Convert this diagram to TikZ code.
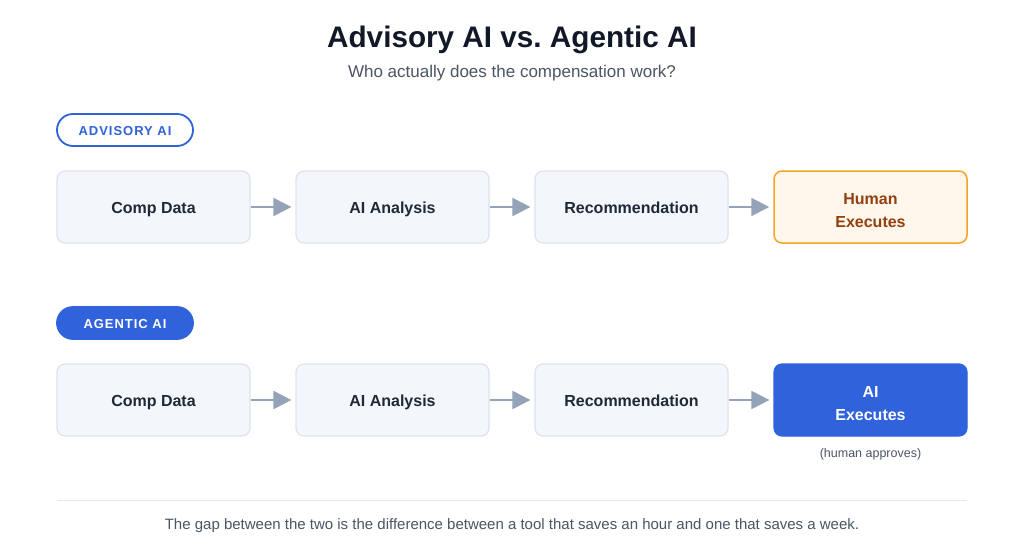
\documentclass[tikz,border=0pt]{standalone}
\usepackage{fontspec}
\setmainfont{Liberation Sans}
\newfontfamily\spacedfont[LetterSpace=7.5]{Liberation Sans}
\usetikzlibrary{arrows.meta}
\frenchspacing
\definecolor{titlec}{HTML}{111827}
\definecolor{subc}{HTML}{4B5563}
\definecolor{boxtext}{HTML}{1F2937}
\definecolor{boxfill}{HTML}{F3F6FB}
\definecolor{boxline}{HTML}{DCE3EE}
\definecolor{arrowc}{HTML}{94A3B8}
\definecolor{bluec}{HTML}{2F62DB}
\definecolor{orangeline}{HTML}{F5A524}
\definecolor{orangefill}{HTML}{FFF6EC}
\definecolor{browntext}{HTML}{92400E}
\definecolor{rulec}{HTML}{E5E7EB}
\definecolor{notec}{HTML}{4B5563}
\tikzset{
  stepbox/.style={draw=boxline, fill=boxfill, line width=1.2pt, rounded corners=8pt,
    minimum width=193pt, minimum height=72pt, inner sep=0pt, align=center,
    font=\fontsize{16}{23}\selectfont\bfseries, text=boxtext,
    text height=13pt, text depth=0pt},
  twoline/.style={text height=41.5pt, text depth=0pt},
  humanbox/.style={stepbox, twoline, draw=orangeline, fill=orangefill, text=browntext, line width=1.5pt},
  aibox/.style={stepbox, twoline, draw=bluec, fill=bluec, text=white},
  badgeout/.style={draw=bluec, line width=1.8pt, rounded corners=16pt, fill=white,
    minimum width=136pt, minimum height=32pt, inner sep=0pt, text=bluec,
    font=\fontsize{13}{15}\selectfont\spacedfont\bfseries,
    text height=11pt, text depth=0pt},
  badgein/.style={badgeout, fill=bluec, text=white},
  flow/.style={draw=arrowc, line width=2pt, shorten >=4pt,
    -{Triangle[length=18pt,width=18pt]}},
}
\begin{document}
\begin{tikzpicture}[x=1pt,y=-1pt]
\useasboundingbox[fill=white] (0,0) rectangle (1024,546);
\node[font=\fontsize{29.7}{36}\selectfont\bfseries, text=titlec] (title) at (512,40) {Advisory AI vs. Agentic AI};
\node[font=\fontsize{17}{20}\selectfont, text=subc] (sub) at (512,73) {Who actually does the compensation work?};

\node[badgeout] (b1) at (125,130) {ADVISORY AI};
\node[stepbox] (a1) at (153.5,207) {Comp Data};
\node[stepbox] (a2) at (392.5,207) {AI Analysis};
\node[stepbox] (a3) at (631.5,207) {Recommendation};
\node[humanbox] (a4) at (870.5,207) {Human\\Executes};
\draw[flow] (a1) -- (a2);
\draw[flow] (a2) -- (a3);
\draw[flow] (a3) -- (a4);

\node[badgein] (b2) at (125,323) {AGENTIC AI};
\node[stepbox] (c1) at (153.5,400) {Comp Data};
\node[stepbox] (c2) at (392.5,400) {AI Analysis};
\node[stepbox] (c3) at (631.5,400) {Recommendation};
\node[aibox] (c4) at (870.5,400) {AI\\Executes};
\draw[flow] (c1) -- (c2);
\draw[flow] (c2) -- (c3);
\draw[flow] (c3) -- (c4);
\node[font=\fontsize{12.5}{15}\selectfont, text=notec] (note) at (870.5,454) {(human approves)};

\coordinate (r1) at (57,500);
\coordinate (r2) at (967,500);
\draw[rulec, line width=1pt] (r1) -- (r2);
\node[font=\fontsize{15}{18}\selectfont, text=subc] (foot) at (512,526) {The gap between the two is the difference between a tool that saves an hour and one that saves a week.};
\end{tikzpicture}
\end{document}
